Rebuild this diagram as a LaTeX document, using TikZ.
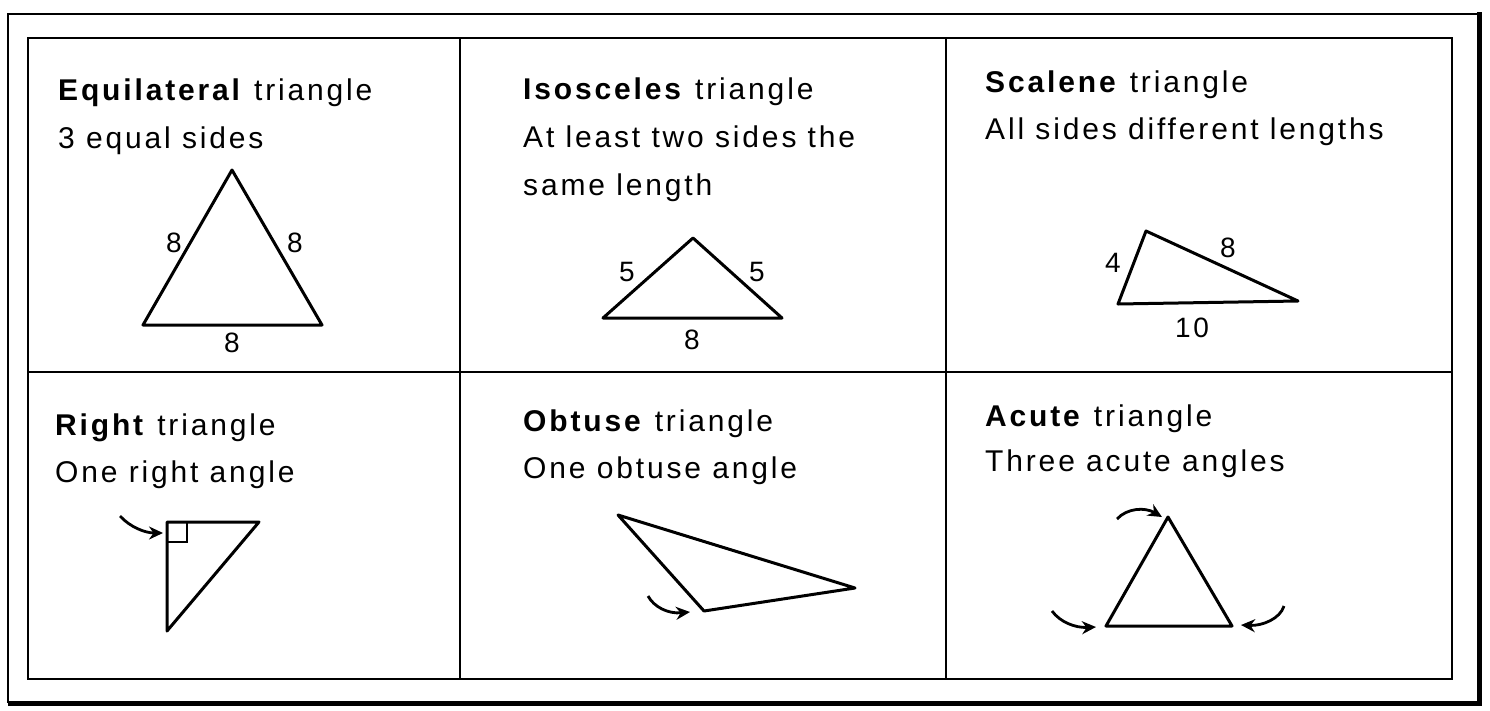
\documentclass[tikz,border=0pt]{standalone}
\usepackage{fontspec}
\setmainfont{Liberation Sans}[LetterSpace=9.5]
\usetikzlibrary{arrows.meta}
\begin{document}
\begin{tikzpicture}[x=1pt,y=-1pt,
  grid/.style={line width=2.6pt},
  tri/.style={line width=3pt,line join=round},
  txt/.style={anchor=base west,inner sep=0pt,font=\fontsize{30}{36}\selectfont},
  lbl/.style={inner sep=0pt,font=\fontsize{28}{34}\selectfont},
  pointer/.style={line width=2.8pt,-{Stealth[length=14pt,width=13pt]}}]
\useasboundingbox (0,0) rectangle (1490,710);
\fill[white] (0,0) rectangle (1490,710);
% outer frame
\draw[line width=2pt] (1479,14) -- (8,14) -- (8,703);
\draw[line width=5pt] (8,703) -- (1479,703) -- (1479,12);
% table grid
\draw[grid] (28,38) rectangle (1452,679);
\draw[grid] (28,372) -- (1452,372);
\draw[grid] (460,38) -- (460,679);
\draw[grid] (946,38) -- (946,679);

% --- Equilateral ---
\node[txt] (t1) at (58,100) {\textbf{Equilateral} triangle};
\node[txt] (s1) at (58,148) {3 equal sides};
\coordinate (e1) at (232,170);
\coordinate (e2) at (143,325);
\coordinate (e3) at (322,325);
\draw[tri] (e1) -- (e2) -- (e3) -- cycle;
\node[lbl] (el1) at (174,243) {8};
\node[lbl] (el2) at (295,243) {8};
\node[lbl] (el3) at (232,343) {8};

% --- Isosceles ---
\node[txt] (t2) at (523,99) {\textbf{Isosceles} triangle};
\node[txt] (s2a) at (523,147) {At least two sides the};
\node[txt] (s2b) at (523,195) {same length};
\coordinate (i1) at (693,238);
\coordinate (i2) at (603,318);
\coordinate (i3) at (782,318);
\draw[tri] (i1) -- (i2) -- (i3) -- cycle;
\node[lbl] (il1) at (627,272) {5};
\node[lbl] (il2) at (757,272) {5};
\node[lbl] (il3) at (692,340) {8};

% --- Scalene ---
\node[txt] (t3) at (985,92) {\textbf{Scalene} triangle};
\node[txt] (s3) at (985,139) {All sides different lengths};
\coordinate (c1) at (1146,231);
\coordinate (c2) at (1118,304);
\coordinate (c3) at (1298,301);
\draw[tri] (c1) -- (c2) -- (c3) -- cycle;
\node[lbl] (cl1) at (1113,263) {4};
\node[lbl] (cl2) at (1228,248) {8};
\node[lbl] (cl3) at (1192,328) {10};

% --- Right ---
\node[txt] (t4) at (55,435) {\textbf{Right} triangle};
\node[txt] (s4) at (55,482) {One right angle};
\coordinate (r1) at (167,522);
\coordinate (r2) at (259,522);
\coordinate (r3) at (167,631);
\draw[tri] (r1) -- (r2) -- (r3) -- cycle;
\draw[line width=2pt] (167,542) -- (187,542) -- (187,522);
\coordinate (ra) at (120,516);
\coordinate (rb) at (163,533);
\draw[pointer] (ra) .. controls (130,527) and (145,533) .. (rb);

% --- Obtuse ---
\node[txt] (t5) at (523,431) {\textbf{Obtuse} triangle};
\node[txt] (s5) at (523,478) {One obtuse angle};
\coordinate (o1) at (618,515);
\coordinate (o2) at (704,611);
\coordinate (o3) at (855,588);
\draw[tri] (o1) -- (o2) -- (o3) -- cycle;
\coordinate (oa) at (648,596);
\coordinate (ob) at (690,612);
\draw[pointer] (oa) .. controls (654,607) and (668,614) .. (ob);

% --- Acute ---
\node[txt] (t6) at (985,426) {\textbf{Acute} triangle};
\node[txt] (s6) at (985,471) {Three acute angles};
\coordinate (a1) at (1168,517);
\coordinate (a2) at (1106,626);
\coordinate (a3) at (1232,626);
\draw[tri] (a1) -- (a2) -- (a3) -- cycle;
\coordinate (aa) at (1117,519);
\coordinate (ab) at (1162,517);
\draw[pointer] (aa) .. controls (1127,508) and (1145,507) .. (ab);
\coordinate (ac) at (1052,611);
\coordinate (ad) at (1096,627);
\draw[pointer] (ac) .. controls (1060,622) and (1075,628) .. (ad);
\coordinate (ae) at (1284,606);
\coordinate (af) at (1241,625);
\draw[pointer] (ae) .. controls (1280,619) and (1262,626) .. (af);
\end{tikzpicture}
\end{document}
